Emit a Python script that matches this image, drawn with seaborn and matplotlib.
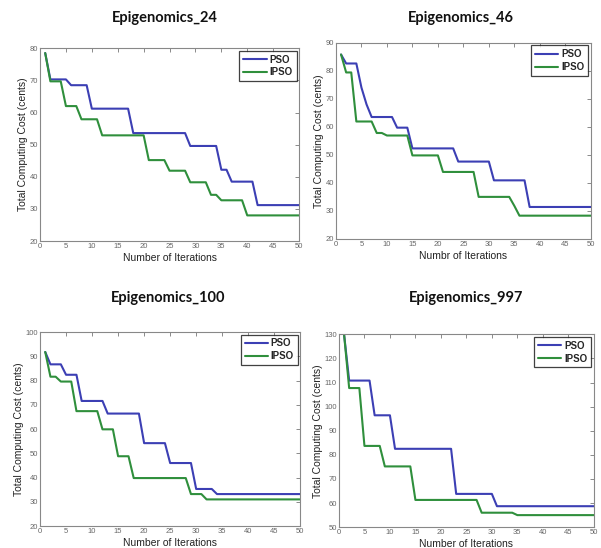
import numpy as np
import pandas as pd
import matplotlib
matplotlib.use("Agg")
import matplotlib.pyplot as plt
import seaborn as sns

iterations = list(range(1, 51))

titles = ["Epigenomics_24", "Epigenomics_46", "Epigenomics_100", "Epigenomics_997"]
xlabels = ["Number of Iterations", "Numbr of Iterations", "Number of Iterations", "Number of Iterations"]
ylabel = "Total Computing Cost (cents)"
series_names = ["PSO", "IPSO"]

pso_24 = [78.5,
          70.3, 70.3, 70.3, 70.3,
          68.5, 68.5, 68.5, 68.5,
          61.2, 61.2, 61.2, 61.2, 61.2, 61.2, 61.2, 61.2,
          53.6, 53.6, 53.6, 53.6, 53.6, 53.6, 53.6, 53.6, 53.6, 53.6, 53.6,
          49.6, 49.6, 49.6, 49.6, 49.6, 49.6,
          42.2, 42.2,
          38.5, 38.5, 38.5, 38.5, 38.5,
          31.2, 31.2, 31.2, 31.2, 31.2, 31.2, 31.2, 31.2, 31.2]
ipso_24 = [78.5,
           69.7, 69.7, 69.7,
           62.0, 62.0, 62.0,
           57.9, 57.9, 57.9, 57.9,
           52.9, 52.9, 52.9, 52.9, 52.9, 52.9, 52.9, 52.9, 52.9,
           45.2, 45.2, 45.2, 45.2,
           41.9, 41.9, 41.9, 41.9,
           38.3, 38.3, 38.3, 38.3,
           34.4, 34.4,
           32.7, 32.7, 32.7, 32.7, 32.7,
           28.0, 28.0, 28.0, 28.0, 28.0, 28.0, 28.0, 28.0, 28.0, 28.0, 28.0]

pso_46 = [85.8,
          82.6, 82.6, 82.6,
          74.0,
          68.0,
          63.5, 63.5, 63.5, 63.5, 63.5,
          59.7, 59.7, 59.7,
          52.3, 52.3, 52.3, 52.3, 52.3, 52.3, 52.3, 52.3, 52.3,
          47.6, 47.6, 47.6, 47.6, 47.6, 47.6, 47.6,
          40.9, 40.9, 40.9, 40.9, 40.9, 40.9, 40.9,
          31.4, 31.4, 31.4, 31.4, 31.4, 31.4, 31.4, 31.4, 31.4, 31.4, 31.4, 31.4, 31.4]
ipso_46 = [85.8,
           79.4, 79.4,
           61.9, 61.9, 61.9, 61.9,
           57.8, 57.8,
           56.9, 56.9, 56.9, 56.9, 56.9,
           49.8, 49.8, 49.8, 49.8, 49.8, 49.8,
           43.9, 43.9, 43.9, 43.9, 43.9, 43.9, 43.9,
           35.0, 35.0, 35.0, 35.0, 35.0, 35.0, 35.0,
           31.8,
           28.3, 28.3, 28.3, 28.3, 28.3, 28.3, 28.3, 28.3, 28.3, 28.3, 28.3, 28.3, 28.3, 28.3, 28.3]

pso_100 = [91.8,
           86.7, 86.7, 86.7,
           82.4, 82.4, 82.4,
           71.6, 71.6, 71.6, 71.6, 71.6,
           66.4, 66.4, 66.4, 66.4, 66.4, 66.4, 66.4,
           54.2, 54.2, 54.2, 54.2, 54.2,
           46.0, 46.0, 46.0, 46.0, 46.0,
           35.3, 35.3, 35.3, 35.3,
           33.2, 33.2, 33.2, 33.2, 33.2, 33.2, 33.2, 33.2, 33.2, 33.2, 33.2, 33.2, 33.2, 33.2, 33.2, 33.2, 33.2]
ipso_100 = [91.8,
            81.6, 81.6,
            79.6, 79.6, 79.6,
            67.4, 67.4, 67.4, 67.4, 67.4,
            59.9, 59.9, 59.9,
            48.8, 48.8, 48.8,
            39.8, 39.8, 39.8, 39.8, 39.8, 39.8, 39.8, 39.8, 39.8, 39.8, 39.8,
            33.2, 33.2, 33.2,
            31.0, 31.0, 31.0, 31.0, 31.0, 31.0, 31.0, 31.0, 31.0, 31.0, 31.0, 31.0, 31.0, 31.0, 31.0, 31.0, 31.0, 31.0, 31.0]

pso_997 = [130.0,
           110.8, 110.8, 110.8, 110.8, 110.8,
           96.4, 96.4, 96.4, 96.4,
           82.5, 82.5, 82.5, 82.5, 82.5, 82.5, 82.5, 82.5, 82.5, 82.5, 82.5, 82.5,
           63.8, 63.8, 63.8, 63.8, 63.8, 63.8, 63.8, 63.8,
           58.7, 58.7, 58.7, 58.7, 58.7, 58.7, 58.7, 58.7, 58.7, 58.7,
           58.7, 58.7, 58.7, 58.7, 58.7, 58.7, 58.7, 58.7, 58.7, 58.7]
ipso_997 = [130.0,
            107.7, 107.7, 107.7,
            83.7, 83.7, 83.7, 83.7,
            75.2, 75.2, 75.2, 75.2, 75.2, 75.2,
            61.3, 61.3, 61.3, 61.3, 61.3, 61.3, 61.3, 61.3, 61.3, 61.3, 61.3, 61.3, 61.3,
            56.0, 56.0, 56.0, 56.0, 56.0, 56.0, 56.0,
            55.0, 55.0, 55.0, 55.0, 55.0, 55.0, 55.0, 55.0,
            55.0, 55.0, 55.0, 55.0, 55.0, 55.0, 55.0, 55.0]

y_ranges = [(20, 80), (20, 90), (20, 100), (50, 130)]
y_ticks = [list(range(20, 81, 10)), list(range(20, 91, 10)),
           list(range(20, 101, 10)), list(range(50, 131, 10))]
x_ticks = list(range(0, 51, 5))

data_sets = [(pso_24, ipso_24), (pso_46, ipso_46), (pso_100, ipso_100), (pso_997, ipso_997)]

sns.set_theme(style="white")
plt.rcParams['font.family'] = ['Liberation Sans', 'DejaVu Sans']

colors = {"PSO": "#3c3fb4", "IPSO": "#2f8f3c"}

fig = plt.figure(figsize=(6.01, 5.48), dpi=100)

axes_rects = [
    [0.0666, 0.560, 0.431, 0.352],
    [0.559, 0.564, 0.424, 0.358],
    [0.0666, 0.040, 0.433, 0.354],
    [0.564, 0.038, 0.424, 0.352],
]
title_pos = [(0.275, 0.967), (0.767, 0.967), (0.280, 0.456), (0.775, 0.456)]

for i in range(4):
    ax = fig.add_axes(axes_rects[i])
    pso, ipso = data_sets[i]
    df = pd.DataFrame({
        "Iteration": iterations + iterations,
        "Cost": pso + ipso,
        "Method": ["PSO"] * len(pso) + ["IPSO"] * len(ipso),
    })
    sns.lineplot(data=df, x="Iteration", y="Cost", hue="Method", hue_order=series_names,
                 palette=colors, linewidth=1.5, ax=ax)
    ax.set_xlim(0, 50)
    ax.set_ylim(*y_ranges[i])
    ax.set_xticks(x_ticks)
    ax.set_yticks(y_ticks[i])
    ax.tick_params(direction="in", top=True, right=True, length=3, width=0.6,
                   labelsize=5.5, colors="#777777", labelcolor="#666666", pad=1.5)
    for s in ax.spines.values():
        s.set_color("#888888")
        s.set_linewidth(0.8)
    ax.set_xlabel(xlabels[i], fontsize=7.5, color="#222222", labelpad=2)
    ax.set_ylabel(ylabel, fontsize=7.5, color="#222222", labelpad=1)
    leg = ax.legend(loc="upper right", fontsize=7, frameon=True, fancybox=False,
                    borderaxespad=0.25, handlelength=2.4, handletextpad=0.3,
                    borderpad=0.4, labelspacing=0.3)
    leg.get_frame().set_edgecolor("#111111")
    leg.get_frame().set_linewidth(0.9)
    for t in leg.get_texts():
        t.set_fontweight("bold")
    fig.text(title_pos[i][0], title_pos[i][1], titles[i], ha="center", va="center",
             fontsize=10.5, fontweight="bold", family=["Lato", "DejaVu Sans"], color="#111111")

fig.savefig("out.png", dpi=100)
